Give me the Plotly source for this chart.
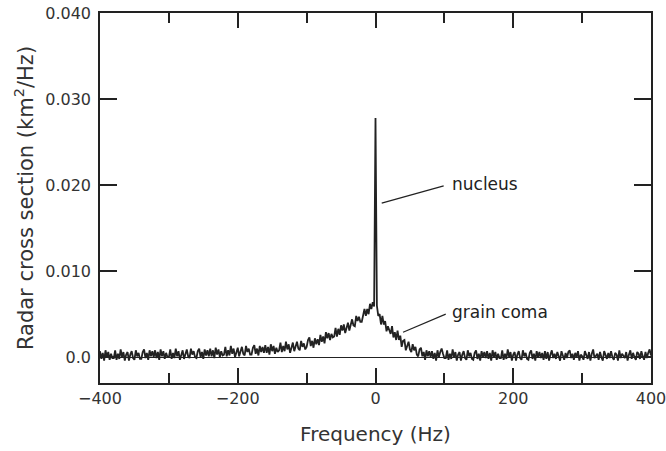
import plotly.graph_objects as go

# Frequency grid (Hz), one sample every 2 Hz
freq = list(range(-400, 401, 2))

# Radar cross section, in units of 1e-4 km^2/Hz
rcs_left = [
    7, -2, 5, -4, 8, 0, 6, -3, 4, -1,
    -1, 8, -3, 4, -2, 9, 0, 6, -4, 3,
    6, -4, 3, 7, -1, -3, 8, 1, 5, -2,
    -2, 6, 9, -1, 5, -3, 8, 1, 7, 0,
    8, -1, 6, -3, 9, 1, 7, -2, 5, 0,
    0, 9, -2, 5, -1, 10, 1, 7, -3, 4,
    8, -2, 5, 9, 1, -1, 10, 3, 7, 0,
    -1, 7, 10, 0, 6, -2, 9, 2, 8, 1,
    10, 1, 8, -1, 11, 3, 9, 0, 7, 2,
    3, 12, 1, 8, 2, 13, 4, 10, 0, 7,
    11, 1, 8, 12, 4, 2, 13, 6, 10, 3,
    3, 11, 14, 4, 10, 2, 13, 6, 12, 5,
    14, 5, 12, 3, 15, 7, 13, 4, 11, 6,
    8, 17, 6, 13, 7, 18, 9, 15, 5, 12,
    17, 7, 14, 18, 10, 8, 19, 12, 16, 9,
    12, 20, 23, 13, 19, 11, 22, 15, 21, 14,
    26, 18, 24, 16, 29, 22, 28, 20, 27, 23,
    24, 34, 24, 33, 26, 37, 31, 38, 28, 36,
    40, 31, 38, 44, 37, 36, 48, 42, 47, 41,
    41, 51, 56, 48, 56, 50, 62, 56, 64, 59,
]
rcs_peak = [278]
rcs_right = [
    60, 48, 50, 38, 48, 38, 42, 30, 36, 30,
    27, 36, 23, 29, 20, 31, 20, 25, 12, 19,
    20, 8, 13, 18, 9, 6, 15, 8, 12, 3,
    1, 9, 11, 1, 6, -3, 8, 1, 7, 0,
    7, -2, 5, -4, 8, 0, 6, 10, 4, -1,
    -1, 8, -3, 4, -2, 9, 0, 6, -4, 3,
    6, -4, 3, 7, -1, -3, 8, 1, 5, -2,
    -3, 5, 8, -2, 4, -4, 7, 0, 6, -1,
    7, -2, 5, -4, 8, 0, 6, -3, 4, -1,
    -1, 8, -3, 4, -2, 9, 0, 6, -4, 3,
    6, -4, 3, 7, -1, -3, 8, 1, 5, -2,
    -3, 5, 8, -2, 4, -4, 7, 0, 6, -1,
    5, -3, 7, -2, 6, -4, 3, 8, -1, 4,
    -2, 6, 1, -4, 7, 3, -3, 5, -1, 6,
    8, -1, 4, -3, 5, 0, 7, -4, 3, 1,
    -3, 7, 2, -2, 6, -4, 4, 9, -1, 2,
    4, -3, 6, 0, -4, 7, 2, -2, 5, -1,
    7, 0, -3, 5, 3, -4, 8, -1, 4, 1,
    -1, 6, -4, 3, 8, -2, 5, 0, -3, 6,
    4, -2, 7, 1, -3, 6, -1, 5, 9, 2,
]
rcs = [v * 1e-4 for v in rcs_left + rcs_peak + rcs_right]

y_ticks = [0, 0.01, 0.02, 0.03, 0.04]
y_labels = ["0.0", "0.010", "0.020", "0.030", "0.040"]

font = "DejaVu Sans"
ink = "#222222"

fig = go.Figure()
fig.add_trace(go.Scatter(x=freq, y=rcs, mode="lines",
                         line=dict(color=ink, width=1.8), showlegend=False))

# labels with leader lines
fig.add_shape(type="line", x0=9, y0=0.0179, x1=99, y1=0.0199,
              line=dict(color=ink, width=1.2))
fig.add_annotation(x=108, y=0.0201, text="nucleus", showarrow=False,
                   xanchor="left", font=dict(family=font, size=17, color=ink))
fig.add_shape(type="line", x0=40, y0=0.0029, x1=102, y1=0.0050,
              line=dict(color=ink, width=1.2))
fig.add_annotation(x=108, y=0.0052, text="grain coma", showarrow=False,
                   xanchor="left", font=dict(family=font, size=17, color=ink))

fig.update_layout(
    width=666, height=451,
    margin=dict(l=100, r=15, t=13, b=68, autoexpand=False),
    paper_bgcolor="white", plot_bgcolor="white",
    font=dict(family=font, size=16, color="#333333"),
)
fig.update_xaxes(
    range=[-400, 400], tickvals=[-400, -200, 0, 200, 400],
    ticks="inside", ticklen=15, tickwidth=1.5, tickcolor=ink,
    ticklabeloverflow="allow",
    minor=dict(ticks="inside", dtick=100, ticklen=10, tickwidth=1.5, tickcolor=ink),
    showline=True, linecolor=ink, linewidth=1.5, mirror="ticks",
    showgrid=False, zeroline=False,
    title=dict(text="Frequency (Hz)", font=dict(size=20), standoff=20),
)
fig.update_yaxes(
    range=[-0.003, 0.040], tickvals=y_ticks, ticktext=y_labels,
    ticks="inside", ticklen=17, tickwidth=1.5, tickcolor=ink,
    ticklabelstandoff=4, ticklabeloverflow="allow",
    showline=True, linecolor=ink, linewidth=1.5, mirror="ticks",
    showgrid=False, zeroline=True, zerolinecolor=ink, zerolinewidth=1,
    title=dict(text="Radar cross section (km<sup>2</sup>/Hz)", font=dict(size=21), standoff=6),
)

fig.write_html("out.html", config={"displayModeBar": False},
               post_script="document.body.style.margin = '0';")
